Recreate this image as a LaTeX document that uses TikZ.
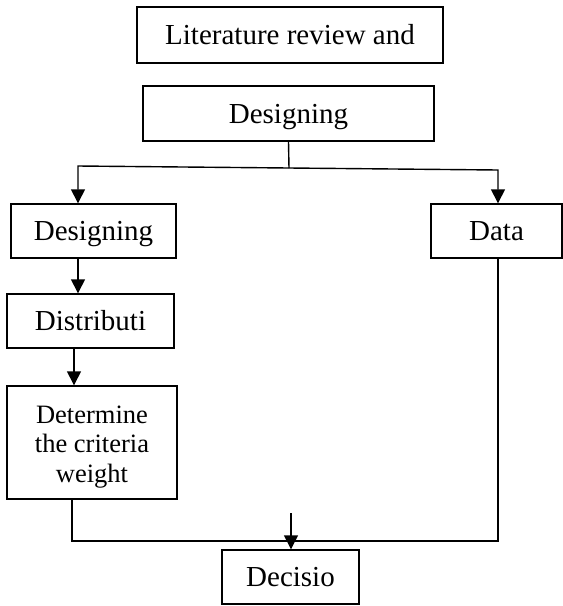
\documentclass[tikz,border=0pt]{standalone}
\usepackage{fontspec}
\setmainfont{Liberation Serif}
\usetikzlibrary{arrows.meta}

\begin{document}
\begin{tikzpicture}[x=1pt,y=-1pt,
    >={Triangle[length=14pt,width=14pt]},
    every node/.style={font=\fontsize{29}{31.5}\selectfont},
    box/.style={draw=black,line width=1.4pt,inner sep=0pt,align=center},
    one/.style={box,text height=19.5pt,text depth=0pt},
    ln/.style={draw=black,line width=1.4pt},
    arr/.style={draw=black,line width=1.4pt,->}
  ]
  \useasboundingbox (0,0) rectangle (563,606);
  % top boxes
  \node[one,minimum width=306pt,minimum height=56pt] (lit) at (290,35) {Literature review and};
  \node[one,minimum width=291pt,minimum height=55pt] (des) at (288.5,113.5) {Designing};
  % left column
  \node[one,minimum width=165pt,minimum height=54pt] (dsg) at (93.5,231) {Designing};
  \node[one,minimum width=167pt,minimum height=54pt] (dist) at (90.5,321) {Distributi};
  \node[box,minimum width=170pt,minimum height=113pt,font=\fontsize{26.5}{29.5}\selectfont] (det) at (92,442.5)
    {\rule{0pt}{26pt}Determine\\the criteria\\weight};
  % right column
  \node[one,minimum width=131pt,minimum height=54pt] (data) at (496.5,231) {Data};
  % bottom
  \node[one,minimum width=137pt,minimum height=54pt] (dec) at (290.5,577) {Decisio};
  % split below the design box
  \coordinate (jt) at (289,168);
  \coordinate (jl) at (78,166);
  \coordinate (jr) at (498,170);
  \draw[ln] (des.south) -- (jt);
  \draw[arr] (jt) -- (jl) -- (jl |- dsg.north);
  \draw[arr] (jt) -- (jr) -- (jr |- data.north);
  % left chain
  \draw[arr] ([xshift=-15.5pt]dsg.south) -- ([xshift=-15.5pt]dsg.south |- dist.north);
  \draw[arr] ([xshift=-16.5pt]dist.south) -- ([xshift=-16.5pt]dist.south |- det.north);
  % join at the bottom
  \coordinate (bl) at (72,541);
  \coordinate (br) at (498,541);
  \draw[ln] ([xshift=-20pt]det.south) -- (bl) -- (br) -- (br |- data.south);
  \coordinate (ds) at (291,513);
  \draw[arr] (ds) -- (ds |- dec.north);
\end{tikzpicture}
\end{document}
